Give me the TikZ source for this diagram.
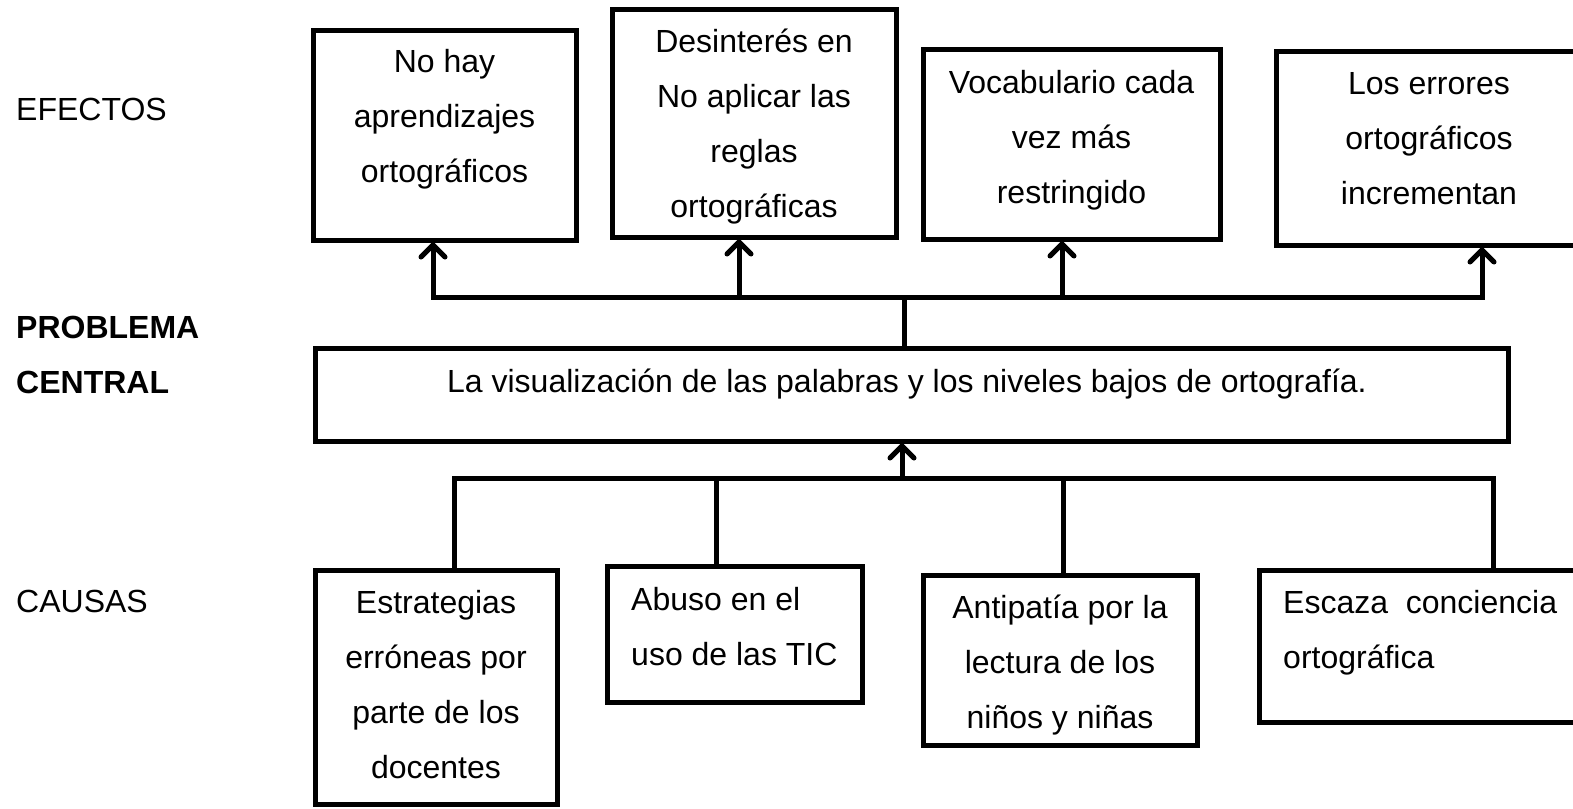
\documentclass[tikz,border=0pt]{standalone}
\usepackage{fontspec}
\setmainfont{Liberation Sans}
\usetikzlibrary{arrows.meta}
\begin{document}
\begin{tikzpicture}[x=1pt,y=-1pt,
  box/.style={draw=black, line width=5pt, fill=white, inner sep=0pt, rectangle},
  txt/.style={font=\fontsize{32}{55}\selectfont, inner sep=0pt, anchor=base, align=center},
  ltxt/.style={font=\fontsize{32}{55}\selectfont, inner sep=0pt, anchor=base west, align=left},
  conn/.style={line width=5pt, line cap=rect},
  arr/.style={line width=5pt, -{Straight Barb[length=12pt,width=24pt,round]}}
]
\useasboundingbox (0,0) rectangle (1573,808);
\clip (0,0) rectangle (1573,808);
\fill[white] (0,0) rectangle (1573,808);

% labels
\node[ltxt] (lef) at (16,120) {EFECTOS};
\node[ltxt, font=\fontsize{32}{55}\selectfont\bfseries] (lpc) at (16,393) {PROBLEMA\\CENTRAL};
\node[ltxt] (lca) at (16,612) {CAUSAS};

% effect boxes
\node[box, minimum width=263pt, minimum height=209pt] (e1) at (444.5,135.5) {};
\node[box, minimum width=284pt, minimum height=227pt] (e2) at (754,123.5) {};
\node[box, minimum width=297pt, minimum height=189pt] (e3) at (1071.5,144.5) {};
\node[box, minimum width=324pt, minimum height=193pt] (e4) at (1438,148.5) {};

\node[txt] (e1t) at (444.5,182) {No hay\\aprendizajes\\ortográficos};
\node[txt] (e2t) at (754,217) {Desinterés en\\No aplicar las\\reglas\\ortográficas};
\node[txt] (e3t) at (1071.5,203) {Vocabulario cada\\vez más\\restringido};
\node[txt] (e4t) at (1429,204) {Los errores\\ortográficos\\incrementan};

% central problem
\node[box, minimum width=1193pt, minimum height=93pt] (p) at (911.5,394.5) {};
\node[txt] (pt) at (907,392) {La visualización de las palabras y los niveles bajos de ortografía.};

% cause boxes
\node[box, minimum width=242pt, minimum height=234pt] (c1) at (436,687) {};
\node[box, minimum width=255pt, minimum height=136pt] (c2) at (734.5,634) {};
\node[box, minimum width=274pt, minimum height=170pt] (c3) at (1060,660) {};
\node[box, minimum width=341pt, minimum height=152pt] (c4) at (1429.5,646) {};

\node[txt] (c1t) at (436,778) {Estrategias\\erróneas por\\parte de los\\docentes};
\node[ltxt] (c2t) at (631,665) {Abuso en el\\uso de las TIC};
\node[txt] (c3t) at (1060,728) {Antipatía por la\\lectura de los\\niños y niñas};
\node[ltxt] (c4t) at (1283,668) {Escaza\ \ conciencia\\ortográfica};

% top connectors
\coordinate (tj) at (904,297);
\coordinate (ta1) at (433,297);
\coordinate (ta2) at (739,297);
\coordinate (ta3) at (1062,297);
\coordinate (ta4) at (1482,297);
\draw[conn] (ta1) -- (ta4);
\draw[conn] (p.north -| tj) -- (tj);
\draw[arr] (ta1) -- (ta1 |- e1.south);
\draw[arr] (ta2) -- (ta2 |- e2.south);
\draw[arr] (ta3) -- (ta3 |- e3.south);
\draw[arr] (ta4) -- (ta4 |- e4.south);

% bottom connectors
\coordinate (bj) at (902,478);
\coordinate (bb1) at (454,478);
\coordinate (bb2) at (716,478);
\coordinate (bb3) at (1063,478);
\coordinate (bb4) at (1493,478);
\draw[conn] (bb1) -- (bb4);
\draw[arr] (bj) -- (bj |- p.south);
\draw[conn] (bb1) -- (bb1 |- c1.north);
\draw[conn] (bb2) -- (bb2 |- c2.north);
\draw[conn] (bb3) -- (bb3 |- c3.north);
\draw[conn] (bb4) -- (bb4 |- c4.north);
\end{tikzpicture}
\end{document}
